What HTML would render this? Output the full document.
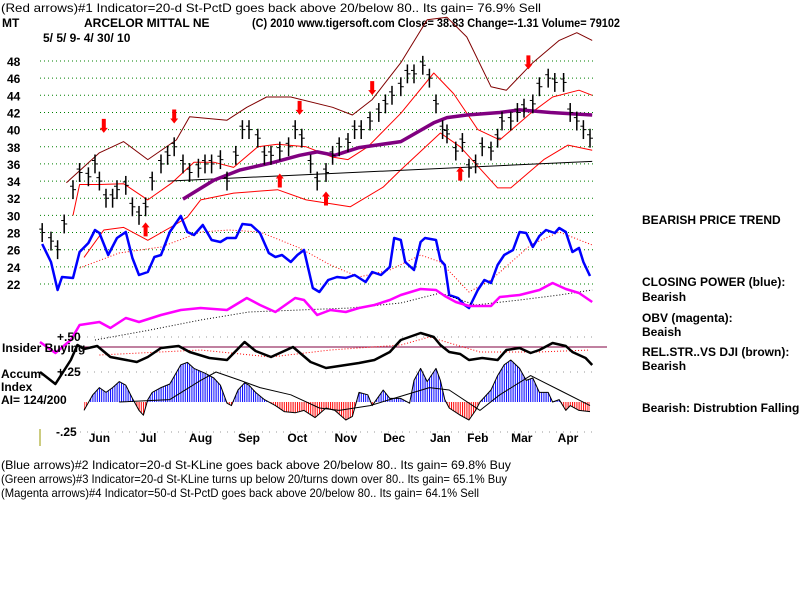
<!DOCTYPE html>
<html><head><meta charset="utf-8"><style>
body{margin:0;background:#fff;}
svg{display:block;font-family:"Liberation Sans",sans-serif;}
.t{font-size:12px;font-weight:bold;fill:#000;}
.s{font-size:12px;fill:#000;}
</style></head><body>
<svg id="chart" width="800" height="600" viewBox="0 0 800 600" xmlns="http://www.w3.org/2000/svg">
<rect x="0" y="0" width="800" height="600" fill="#fff"/>
<text class="s" x="1" y="12" textLength="540" lengthAdjust="spacingAndGlyphs">(Red arrows)#1 Indicator=20-d St-PctD goes back above 20/below 80.. Its gain= 76.9% Sell</text>
<text class="t" x="2" y="27">MT</text>
<text class="t" x="84" y="27">ARCELOR MITTAL NE</text>
<text class="t" x="252" y="27" textLength="368" lengthAdjust="spacingAndGlyphs">(C) 2010 www.tigersoft.com    Close=  38.83  Change=-1.31  Volume= 79102</text>
<text class="t" x="43" y="42">5/ 5/ 9- 4/ 30/ 10</text>
<g id="layer"></g>
<text class="t" x="2" y="352">Insider Buying</text>
<text class="t" x="57" y="341">+.50</text>
<text class="t" x="1" y="378">Accum-</text>
<text class="t" x="57" y="376">+.25</text>
<text class="t" x="1" y="391">Index</text>
<text class="t" x="1" y="404">AI= 124/200</text>
<text class="t" x="56" y="436">-.25</text>
<line x1="40" y1="429" x2="40" y2="446" stroke="#999900" stroke-width="1"/>
<text class="t" x="642" y="224">BEARISH PRICE TREND</text>
<text class="t" x="642" y="286">CLOSING POWER (blue):</text>
<text class="t" x="642" y="301">Bearish</text>
<text class="t" x="642" y="322">OBV (magenta):</text>
<text class="t" x="642" y="336">Beaish</text>
<text class="t" x="642" y="356">REL.STR..VS DJI (brown):</text>
<text class="t" x="642" y="370">Bearish</text>
<text class="t" x="642" y="412">Bearish: Distrubtion Falling.</text>
<text class="s" x="1" y="469" textLength="510" lengthAdjust="spacingAndGlyphs">(Blue arrows)#2 Indicator=20-d St-KLine goes back above 20/below 80.. Its gain= 69.8% Buy</text>
<text class="s" x="1" y="483" textLength="506" lengthAdjust="spacingAndGlyphs">(Green arrows)#3 Indicator=20-d St-KLine turns up below 20/turns down over 80.. Its gain= 65.1% Buy</text>
<text class="s" x="1" y="497" textLength="478" lengthAdjust="spacingAndGlyphs">(Magenta arrows)#4 Indicator=50-d St-PctD goes back above 20/below 80.. Its gain= 64.1% Sell</text>
</svg>
<script>
const priceTicks=[48,46,44,42,40,38,36,34,32,30,28,26,24,22];
const months=["Jun","Jul","Aug","Sep","Oct","Nov","Dec","Jan","Feb","Mar","Apr"];
const monthDays=[27,49,73,95,117,139,161,182,199,219,240];
const closeDays=[1,5,8,11,15,18,22,25,27,30,33,35,39,42,45,48,51,55,58,61,65,68,72,75,78,82,85,89,92,95,99,102,105,109,113,116,119,123,126,130,133,136,140,143,146,150,154,157,160,164,167,170,174,177,180,183,185,189,192,195,198,201,205,208,210,214,217,220,224,227,231,234,238,241,244,247,250];
const closes=[28,27,26,29,33,35,34.5,36,34,32,32,33,33.5,31,30,31,34,36,37,38,36,35,35.5,36,36,36.5,34,37,40,40,39,37,37,37.5,38,40,39,36,34,35,37,38,38.5,40,40,41,42,43,44,45,46.5,46.5,47.5,46,43,40,39.5,37.5,38.5,35.5,36,38,37.5,39,41,41,42,42.5,43,45,46,45.5,45.5,42,41,40,39];
const upperDays=[12,27,38,49,62,68,85,94,103,114,133,142,151,164,176,185,194,205,212,224,236,244,251];
const upperBand=[33.8,37.3,38.6,36.5,38.8,41.5,41.1,42.6,43.8,43.8,42.6,41.7,43.5,47.8,52.8,53.1,50.8,45,44.6,47.8,50.4,51.3,50.4];
const midDays=[15,18,27,38,49,60,70,79,88,99,108,121,133,140,149,164,179,188,199,209,223,233,245,251];
const midBand=[30,33.6,33.6,33.7,31.8,33.8,36.2,36.2,35.6,38,38.3,38,36.8,36.5,38,41.9,46.6,44.2,40,38.8,41.9,43.8,44.6,44];
const lowDays=[20,29,38,49,62,67,73,88,108,121,141,156,164,182,191,208,214,229,240,251];
const lowBand=[25.1,28.3,28.6,27.1,29,29.8,31.8,32.6,33,31.8,31,33.3,35.3,39.6,38,33.2,33.2,36.5,38.2,37.6];
const maDays=[65,79,91,105,118,126,134,145,164,179,185,194,209,218,232,251];
const maValues=[31.9,34.1,35.3,36.1,37,37.4,37,37.9,38.6,40.8,41.4,41.7,42,42.3,42,41.7];
const trendDays=[58,251];
const trendValues=[34.0,36.3];
const downArrowDays=[29,61,118,151,222];
const downArrowPrices=[40.2,41.3,42.3,44.6,47.6];
const upArrowDays=[48,109,130,191];
const upArrowPrices=[28.6,34.3,32.2,35.1];
const cpDays=[1,5,8,10,15,18,22,25,27,31,35,39,42,45,49,52,55,59,64,67,70,74,78,82,85,89,92,96,100,104,107,110,114,117,120,124,127,131,135,139,143,148,151,155,159,161,164,166,170,173,175,180,182,184,186,190,193,195,199,202,205,208,211,215,218,221,224,227,230,234,236,239,242,245,247,250];
const cpValues=[76,58,30,43,42,68,77,90,87,65,82,88,62,45,48,63,65,88,104,88,85,95,80,78,82,82,96,95,87,67,63,65,58,65,70,32,28,40,43,42,45,38,48,45,53,82,80,58,50,78,82,80,60,55,25,22,15,12,30,40,37,55,65,70,88,87,73,84,90,87,92,88,68,72,58,44];
const cpAvgDays=[18,36,55,73,86,100,118,132,145,159,173,182,195,205,223,236,251];
const cpAvg=[52,67,73,88,90,88,72,55,43,50,65,58,28,40,75,88,75];
const obvDays=[0,7,14,18,27,32,39,45,55,64,73,85,94,100,107,116,120,126,132,139,145,152,159,164,173,180,184,189,195,205,209,218,227,233,239,245,251];
const obvValues=[18,7,20,35,38,32,42,38,45,50,52,50,62,55,48,62,60,45,50,48,52,55,60,65,71,70,64,58,54,54,63,65,70,77,71,67,58];
const obvAvgDays=[25,50,73,95,118,141,164,182,198,218,236,251];
const obvAvg=[20,30,40,48,50,52,57,67,55,60,65,70];
const rsDays=[0,7,14,17,20,26,32,44,49,55,63,68,77,85,93,98,105,115,123,130,136,145,152,159,164,173,179,182,186,191,195,201,208,212,218,223,227,233,239,242,248,251];
const rsValues=[8,-4,20,35,31,34,23,18,23,32,34,28,22,20,38,29,23,33,18,12,14,17,20,28,40,47,43,35,28,26,20,22,20,30,32,27,30,37,34,28,22,15];
const rsAvgDays=[27,73,105,132,164,177,200,227,250];
const rsAvg=[25,30,23,30,35,43,28,28,30];
const aiDays=[20,24,27,30,33,36,39,42,45,47,49,51,55,59,64,67,70,75,79,82,85,87,90,93,95,98,102,107,111,116,120,125,130,134,139,142,145,149,151,156,159,164,168,170,173,176,180,182,184,186,191,195,198,200,205,208,211,214,218,221,224,227,231,233,236,239,241,245,250];
const aiValues=[-7,6,12,8,12,17,14,3,-7,-11,2,8,12,15,31,33,28,24,20,14,-1,-3,10,16,14,8,2,-3,-8,-9,-7,-13,-5,-7,-15,-12,8,6,-3,10,3,3,-1,18,28,17,28,18,2,-5,-11,-15,-7,0,10,22,31,35,28,18,20,8,8,0,2,-7,-3,-7,-8];
const aiAvgDays=[36,59,73,80,91,100,114,127,136,150,159,177,186,200,209,223,236,250];
const aiAvg=[0,2,18,25,18,12,6,-5,-7,-3,2,12,10,-7,6,22,10,-3];

const NS="http://www.w3.org/2000/svg";
const layer=document.getElementById('layer');
const xs=d=>40+d*2.2;
const py=v=>61+(48-v)*8.577;
const cpY=v=>320-v;
const obvY=v=>360-v;
const rsY=v=>380-v;
const aiY=v=>402-v*1.2;
function mk(tag,attrs){const e=document.createElementNS(NS,tag);for(const k in attrs)e.setAttribute(k,attrs[k]);layer.appendChild(e);return e;}
function pathOf(days,vals,fy){return days.map((d,i)=>(i?'L':'M')+xs(d).toFixed(1)+','+fy(vals[i]).toFixed(1)).join(' ');}

priceTicks.forEach(v=>{
  const g=mk('line',{x1:40,x2:593,y1:py(v),y2:py(v),stroke:'#008000','stroke-width':1,'stroke-dasharray':'1,3'});
  
  
  const t=mk('text',{x:7,y:py(v)+5,class:'t'});t.textContent=v;
  
  
});
[337,372,432].forEach(y=>{
  const l=mk('line',{x1:80,x2:593,y1:y,y2:y,stroke:'#999','stroke-width':1,'stroke-dasharray':'1,6'});
  
  
});
months.forEach((m,i)=>{
  const t=mk('text',{x:xs(monthDays[i]),y:442,class:'t','text-anchor':'middle'});t.textContent=m;
  
  
});
function line(days,vals,fy,color,w,name,dash){
  const a={d:pathOf(days,vals,fy),fill:'none',stroke:color,'stroke-width':w,'stroke-linejoin':'round'};
  if(dash)a['stroke-dasharray']=dash;
  const p=mk('path',a);
  
  
  return p;
}
line(upperDays,upperBand,py,'#800000',1,'upper-band');
line(midDays,midBand,py,'#ff0000',1,'middle-band');
line(lowDays,lowBand,py,'#ff0000',1,'lower-band');
line(trendDays,trendValues,py,'#000',1,'trend-line');
line(maDays,maValues,py,'#800080',3.5,'moving-average');
closeDays.forEach((d,i)=>{
  const x=xs(d),c=closes[i];
  const b=mk('line',{x1:x,x2:x,y1:py(c+1.1),y2:py(c-1.1),stroke:'#000','stroke-width':1.5});
  
  
  const tk=mk('line',{x1:x,x2:x+3,y1:py(c),y2:py(c),stroke:'#000','stroke-width':1});
  
  
  const tk2=mk('line',{x1:x-3,x2:x,y1:py(c+0.4),y2:py(c+0.4),stroke:'#000','stroke-width':1});
  
  
});
function arrow(d,v,down,name){
  const x=xs(d),y=py(v);
  const pts=down?`${x-2},${y-9} ${x+2},${y-9} ${x+2},${y} ${x+4},${y} ${x},${y+5} ${x-4},${y} ${x-2},${y}`
                :`${x-2},${y+9} ${x+2},${y+9} ${x+2},${y} ${x+4},${y} ${x},${y-5} ${x-4},${y} ${x-2},${y}`;
  const p=mk('polygon',{points:pts,fill:'#ff0000'});
  
  
}
downArrowDays.forEach((d,i)=>arrow(d,downArrowPrices[i],true,'sell-arrow'));
upArrowDays.forEach((d,i)=>arrow(d,upArrowPrices[i],false,'buy-arrow'));
line(cpAvgDays,cpAvg,cpY,'#ff0000',1,'cp-average','1,2');
line(cpDays,cpValues,cpY,'#0000ff',2.5,'closing-power-line');
line(obvAvgDays,obvAvg,obvY,'#000',1,'obv-average','1,2');
line(obvDays,obvValues,obvY,'#ff00ff',2.5,'obv-line');
const hl=mk('line',{x1:80,x2:607,y1:347,y2:347,stroke:'#800040','stroke-width':1});


line(rsAvgDays,rsAvg,rsY,'#ff0000',1,'rs-average','1,2');
line(rsDays,rsValues,rsY,'#000',2.5,'relative-strength-line');
const defs=mk('defs',{});
['blue','red'].forEach(c=>{
  const pat=document.createElementNS(NS,'pattern');
  pat.setAttribute('id','h'+c);pat.setAttribute('width','2.2');pat.setAttribute('height','10');pat.setAttribute('patternUnits','userSpaceOnUse');
  const r=document.createElementNS(NS,'rect');r.setAttribute('x','0');r.setAttribute('y','0');r.setAttribute('width','1');r.setAttribute('height','10');r.setAttribute('fill',c==='blue'?'#0000ff':'#ff0000');
  pat.appendChild(r);defs.appendChild(pat);
});
const cp1=document.createElementNS(NS,'clipPath');cp1.setAttribute('id','above');
const r1=document.createElementNS(NS,'rect');r1.setAttribute('x','0');r1.setAttribute('y','300');r1.setAttribute('width','800');r1.setAttribute('height',aiY(0)-300);cp1.appendChild(r1);defs.appendChild(cp1);
const cp2=document.createElementNS(NS,'clipPath');cp2.setAttribute('id','below');
const r2=document.createElementNS(NS,'rect');r2.setAttribute('x','0');r2.setAttribute('y',aiY(0));r2.setAttribute('width','800');r2.setAttribute('height','60');cp2.appendChild(r2);defs.appendChild(cp2);
const areaD=pathOf(aiDays,aiValues,aiY)+` L${xs(aiDays[aiDays.length-1])},${aiY(0)} L${xs(aiDays[0])},${aiY(0)} Z`;
const ab=mk('path',{d:areaD,fill:'url(#hblue)','clip-path':'url(#above)'});


const bl=mk('path',{d:areaD,fill:'url(#hred)','clip-path':'url(#below)'});


line(aiDays,aiValues,aiY,'#000',1,'ai-outline');
line(aiAvgDays,aiAvg,aiY,'#000',1,'ai-average');
</script>
</body></html>
